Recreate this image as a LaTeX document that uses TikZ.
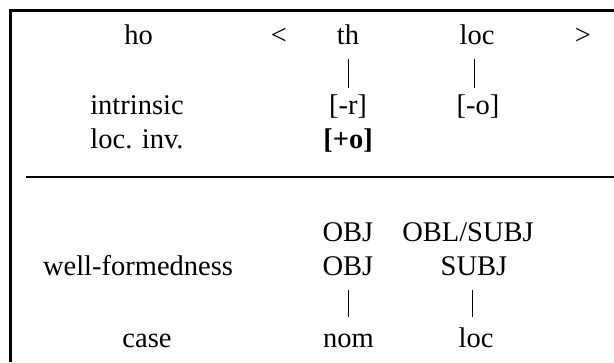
\documentclass[tikz,border=0pt]{standalone}
\usepackage{fontspec}
\setmainfont{Liberation Serif}
\begin{document}
\begin{tikzpicture}[x=1pt,y=-1pt,
  lbl/.style={anchor=base,inner sep=0pt,font=\fontsize{28.5}{34}\selectfont},
  frame/.style={line width=2.5pt,line join=miter},
  rule/.style={line width=2.2pt},
  bar/.style={line width=0.9pt}]
\useasboundingbox (0,0) rectangle (614,362);
% frame
\coordinate (fbl) at (10.5,362);
\coordinate (ftl) at (10.5,10.5);
\coordinate (ftr) at (614,10.5);
\draw[frame] (fbl) -- (ftl) -- (ftr);
\coordinate (ml) at (26,177);
\coordinate (mr) at (614,177);
\draw[rule] (ml) -- (mr);
% top part
\node[lbl] (ho) at (138.5,44) {ho};
\node[lbl] (lt) at (279,44) {<};
\node[lbl] (th) at (348,44) {th};
\node[lbl] (loc) at (477,44) {loc};
\node[lbl] (gt) at (583,44) {>};
\node[lbl] (intr) at (137,114) {intrinsic};
\node[lbl] (mr1) at (348,114) {[-r]};
\node[lbl] (mo) at (478,114) {[-o]};
\node[lbl] (linv) at (137,148) {loc. inv.};
\node[lbl] (po) at (348,148) {\textbf{[+o]}};
\coordinate (b1t) at (348,59);
\coordinate (b1b) at (348,88);
\coordinate (b2t) at (474,59);
\coordinate (b2b) at (474,88);
\draw[bar] (b1t) -- (b1b);
\draw[bar] (b2t) -- (b2b);
% bottom part
\node[lbl] (obj1) at (348,241) {OBJ};
\node[lbl] (obl) at (468,241) {OBL/SUBJ};
\node[lbl] (wf) at (138,275) {well-formedness};
\node[lbl] (obj2) at (348,275) {OBJ};
\node[lbl] (subj) at (474,275) {SUBJ};
\node[lbl] (case) at (147,347) {case};
\node[lbl] (nom) at (348.5,347) {nom};
\node[lbl] (locc) at (476,347) {loc};
\coordinate (b3t) at (348,290);
\coordinate (b3b) at (348,317);
\coordinate (b4t) at (472,290);
\coordinate (b4b) at (472,317);
\draw[bar] (b3t) -- (b3b);
\draw[bar] (b4t) -- (b4b);
\end{tikzpicture}
\end{document}
